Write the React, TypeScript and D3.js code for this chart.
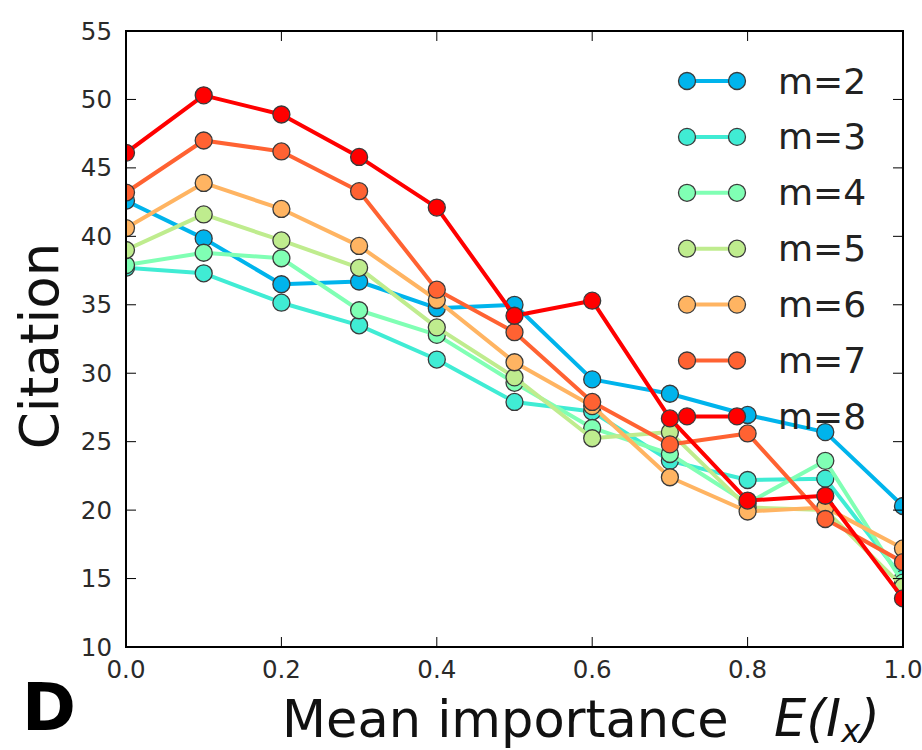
import React from "react";
import * as d3 from "d3";

const xValues = [0.0, 0.1, 0.2, 0.3, 0.4, 0.5, 0.6, 0.7, 0.8, 0.9, 1.0];
const seriesLabels = ["m=2", "m=3", "m=4", "m=5", "m=6", "m=7", "m=8"];
const m2 = [42.6, 39.85, 36.5, 36.7, 34.75, 35.0, 29.55, 28.5, 26.95, 25.7, 20.3];
const m3 = [37.7, 37.3, 35.15, 33.5, 31.0, 27.9, 27.2, 23.6, 22.2, 22.3, 15.0];
const m4 = [37.9, 38.8, 38.4, 34.6, 32.8, 29.3, 26.0, 24.1, 20.5, 23.6, 14.7];
const m5 = [39.0, 41.6, 39.7, 37.7, 33.35, 29.7, 25.25, 25.7, 20.2, 20.0, 14.4];
const m6 = [40.6, 43.9, 42.0, 39.3, 35.35, 30.8, 27.6, 22.4, 19.9, 20.2, 17.2];
const m7 = [43.2, 47.0, 46.2, 43.3, 36.1, 33.0, 27.9, 24.8, 25.6, 19.35, 16.2];
const m8 = [46.1, 50.3, 48.9, 45.8, 42.1, 34.2, 35.3, 26.7, 20.7, 21.05, 13.55];
const seriesValues = [m2, m3, m4, m5, m6, m7, m8];
const colorPositions = [2, 3, 4, 5, 6, 7, 8];
const xTicks = [0, 0.2, 0.4, 0.6, 0.8, 1.0];
const yTicks = [10, 15, 20, 25, 30, 35, 40, 45, 50, 55];

// matplotlib "rainbow" colormap
function rainbow(t: number): string {
  const clip = (v: number) => Math.max(0, Math.min(1, v));
  const r = clip(Math.abs(2 * t - 0.5));
  const g = clip(Math.sin(Math.PI * t));
  const b = clip(Math.cos((Math.PI * t) / 2));
  return d3.rgb(Math.round(r * 255), Math.round(g * 255), Math.round(b * 255)).formatHex();
}

const W = 922;
const H = 750;
const L = 126, R = 903, T = 31, B = 647;
const FONT = "'DejaVu Sans', sans-serif";

export default function App() {
  const x = d3.scaleLinear().domain([0, 1]).range([L, R]);
  const y = d3.scaleLinear().domain([10, 55]).range([B, T]);
  const line = d3
    .line<number>()
    .x((_, i) => x(xValues[i]))
    .y((d) => y(d));
  const colors = colorPositions.map((m) => rainbow(m / 8));
  const tickLen = 10;
  const lw = 4;
  const mr = 8.5;

  const legX1 = 687, legX2 = 737, legTextX = 778, legY0 = 81, legDy = 55.9;

  return (
    <svg
      width={W}
      height={H}
      style={{ position: "absolute", left: 0, top: 0, background: "#fff" }}
      fontFamily={FONT}
    >
      <rect x={0} y={0} width={W} height={H} fill="#fff" />
      <defs>
        <clipPath id="plotclip">
          <rect x={L} y={T} width={R - L} height={B - T} />
        </clipPath>
      </defs>

      {/* series */}
      <g clipPath="url(#plotclip)">
        {seriesValues.map((vals, si) => (
          <g key={si}>
            <path d={line(vals) || ""} fill="none" stroke={colors[si]} strokeWidth={lw} strokeLinejoin="round" />
            {vals.map((v, i) => (
              <circle key={i} cx={x(xValues[i])} cy={y(v)} r={mr} fill={colors[si]} stroke="#3a3a3a" strokeWidth={1.3} />
            ))}
          </g>
        ))}
      </g>

      {/* frame */}
      <rect x={L} y={T} width={R - L} height={B - T} fill="none" stroke="#000" strokeWidth={2} />

      {/* ticks */}
      {xTicks.map((t) => (
        <g key={"xt" + t}>
          <line x1={x(t)} x2={x(t)} y1={B} y2={B - tickLen} stroke="#000" strokeWidth={1} />
          <line x1={x(t)} x2={x(t)} y1={T} y2={T + tickLen} stroke="#000" strokeWidth={1} />
          <text x={x(t)} y={678} textAnchor="middle" fontSize={24.5} fill="#2a2a2a">
            {d3.format(".1f")(t)}
          </text>
        </g>
      ))}
      {yTicks.map((t) => (
        <g key={"yt" + t}>
          <line x1={L} x2={L + tickLen} y1={y(t)} y2={y(t)} stroke="#000" strokeWidth={1} />
          <line x1={R} x2={R - tickLen} y1={y(t)} y2={y(t)} stroke="#000" strokeWidth={1} />
          <text x={112} y={y(t)} textAnchor="end" dominantBaseline="central" fontSize={24.5} fill="#2a2a2a">
            {t}
          </text>
        </g>
      ))}

      {/* legend */}
      {seriesLabels.map((lab, si) => {
        const ly = legY0 + si * legDy;
        return (
          <g key={lab}>
            <line x1={legX1} x2={legX2} y1={ly} y2={ly} stroke={colors[si]} strokeWidth={lw} />
            <circle cx={legX1} cy={ly} r={mr} fill={colors[si]} stroke="#3a3a3a" strokeWidth={1.3} />
            <circle cx={legX2} cy={ly} r={mr} fill={colors[si]} stroke="#3a3a3a" strokeWidth={1.3} />
            <text x={legTextX} y={ly} dominantBaseline="central" fontSize={36} fill="#222">
              {lab}
            </text>
          </g>
        );
      })}

      {/* axis labels */}
      <text transform="translate(58,346) rotate(-90)" textAnchor="middle" fontSize={53} fill="#111">
        Citation
      </text>
      <text x={282} y={737} fontSize={51} fill="#111">
        Mean importance
      </text>
      <text x={774} y={736} fontSize={51} fontStyle="italic" fill="#111">
        E(I
        <tspan fontSize={32} dy={6}>x</tspan>
        <tspan dy={-6}>)</tspan>
      </text>
      <text x={22} y={730} fontSize={65} fontWeight="bold" fill="#000">
        D
      </text>
    </svg>
  );
}
